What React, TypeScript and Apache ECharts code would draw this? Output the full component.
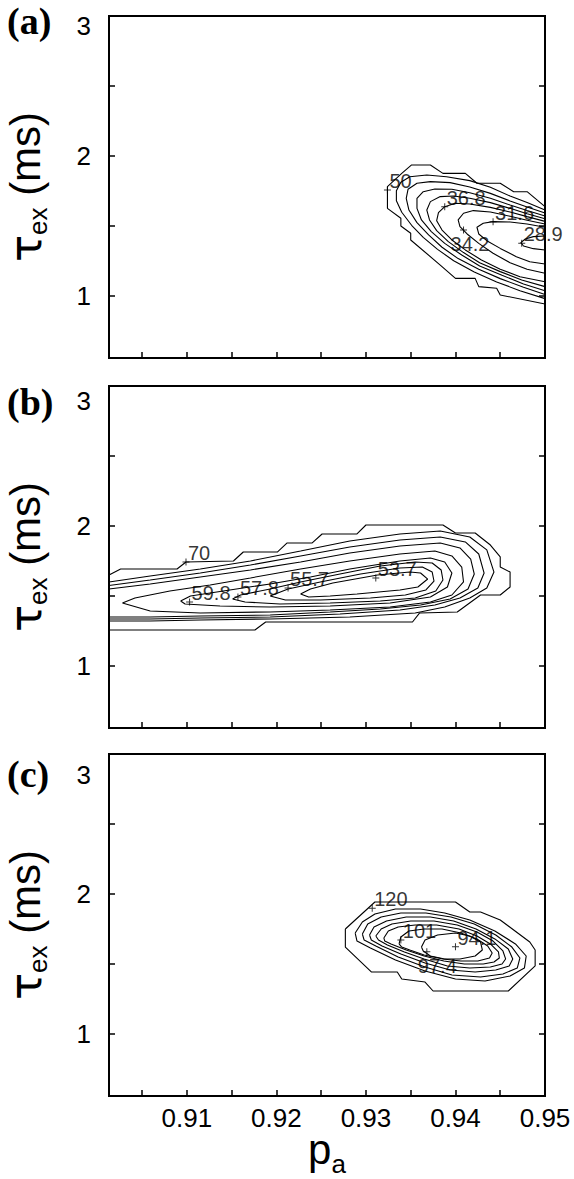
import React, { useEffect, useRef } from 'react';
import * as echarts from 'echarts';

// ---------------- axes ----------------
const xRange = [0.9013, 0.95];
const yRange = [0.557, 3];
const xTickValues = [0.905, 0.91, 0.915, 0.92, 0.925, 0.93, 0.935, 0.94, 0.945];
const xTickLabels = [0.91, 0.92, 0.93, 0.94, 0.95];
const yTickValues = [1, 1.5, 2, 2.5];
const yTickLabels = [1, 2, 3];
const panelTags = ['(a)', '(b)', '(c)'];

// ---------------- panel (a) contours: [p_a, tau_ex] ----------------
const a50 = [[0.95,1.638],[0.948,1.745],[0.9465,1.745],[0.945,1.805],[0.9424,1.805],[0.9411,1.876],[0.9386,1.876],[0.9372,1.936],[0.9351,1.936],[0.934,1.876],[0.9324,1.781],[0.9324,1.626],[0.9339,1.555],[0.9339,1.5],[0.935,1.448],[0.935,1.4],[0.9383,1.221],[0.94,1.126],[0.9422,1.126],[0.9426,1.067],[0.9446,1.055],[0.945,1.007],[0.95,0.943]];
const a47 = [[0.95,1.614],[0.948,1.667],[0.9461,1.714],[0.9439,1.776],[0.9416,1.824],[0.939,1.852],[0.9368,1.864],[0.9349,1.852],[0.9339,1.812],[0.9334,1.752],[0.9334,1.681],[0.934,1.598],[0.9351,1.505],[0.9364,1.419],[0.938,1.333],[0.9398,1.252],[0.9421,1.171],[0.9446,1.1],[0.9472,1.038],[0.95,0.981]];
const a44 = [[0.95,1.593],[0.948,1.636],[0.9461,1.679],[0.9439,1.733],[0.9416,1.779],[0.9394,1.81],[0.9372,1.817],[0.9357,1.805],[0.9347,1.762],[0.9345,1.698],[0.9348,1.614],[0.9357,1.524],[0.937,1.436],[0.9385,1.348],[0.9403,1.267],[0.9426,1.191],[0.945,1.124],[0.9476,1.062],[0.95,1.01]];
const a42 = [[0.95,1.571],[0.948,1.61],[0.9461,1.65],[0.9439,1.698],[0.9416,1.738],[0.9396,1.762],[0.9377,1.764],[0.9364,1.745],[0.9357,1.698],[0.9357,1.626],[0.9362,1.543],[0.9373,1.46],[0.9388,1.376],[0.9407,1.293],[0.9427,1.214],[0.9452,1.148],[0.9476,1.086],[0.95,1.038]];
const a39 = [[0.95,1.552],[0.948,1.588],[0.9461,1.626],[0.9439,1.667],[0.9416,1.698],[0.9398,1.714],[0.9383,1.71],[0.9372,1.674],[0.9368,1.614],[0.9371,1.543],[0.9379,1.467],[0.9392,1.388],[0.9409,1.31],[0.9427,1.238],[0.945,1.174],[0.9474,1.114],[0.95,1.067]];
const a37 = [[0.95,1.533],[0.948,1.567],[0.9461,1.6],[0.9439,1.633],[0.9416,1.657],[0.94,1.662],[0.9388,1.638],[0.9381,1.595],[0.9379,1.538],[0.9385,1.471],[0.9396,1.4],[0.9411,1.329],[0.9429,1.257],[0.945,1.191],[0.9472,1.138],[0.95,1.102]];
const a34 = [[0.95,1.514],[0.948,1.541],[0.9461,1.569],[0.9439,1.6],[0.942,1.61],[0.9409,1.591],[0.9403,1.543],[0.9405,1.495],[0.9413,1.443],[0.9426,1.376],[0.9442,1.305],[0.9461,1.238],[0.948,1.191],[0.95,1.162]];
const a32 = [[0.95,1.491],[0.948,1.514],[0.9461,1.529],[0.9442,1.531],[0.9431,1.519],[0.9424,1.491],[0.9426,1.443],[0.9435,1.395],[0.945,1.34],[0.9468,1.281],[0.9483,1.245],[0.95,1.229]];
const a29 = [[0.95,1.429],[0.9487,1.424],[0.9478,1.407],[0.9473,1.381],[0.9476,1.357],[0.9487,1.338],[0.95,1.329]];
const markersA = [[0.9324,1.757,'50'],[0.9388,1.638,'36.8'],[0.9409,1.471,'34.2'],[0.9442,1.531,'31.6'],[0.9474,1.376,'28.9']];

// ---------------- panel (b) contours ----------------
const b70 = [[0.9013,1.65],[0.9026,1.693],[0.9089,1.693],[0.9099,1.743],[0.9152,1.75],[0.9163,1.814],[0.9201,1.814],[0.9212,1.879],[0.924,1.879],[0.9251,1.943],[0.929,1.943],[0.93,2.007],[0.9386,2.007],[0.94,1.95],[0.9422,1.95],[0.9439,1.864],[0.945,1.779],[0.945,1.707],[0.9461,1.671],[0.9461,1.564],[0.945,1.507],[0.9428,1.507],[0.9402,1.386],[0.936,1.379],[0.9352,1.314],[0.9188,1.314],[0.9176,1.257],[0.9013,1.257]];
const b68 = [[0.9013,1.6],[0.9059,1.643],[0.9115,1.693],[0.9171,1.75],[0.9227,1.821],[0.9282,1.893],[0.9338,1.943],[0.9383,1.964],[0.9416,1.921],[0.9435,1.829],[0.9443,1.671],[0.9435,1.557],[0.9416,1.486],[0.9388,1.421],[0.9355,1.379],[0.9282,1.35],[0.9193,1.336],[0.9115,1.329],[0.9059,1.321],[0.9013,1.321]];
const b66 = [[0.9013,1.575],[0.9059,1.614],[0.9115,1.664],[0.9171,1.721],[0.9227,1.786],[0.9282,1.85],[0.9338,1.9],[0.9383,1.921],[0.9411,1.886],[0.9426,1.8],[0.9432,1.664],[0.9425,1.557],[0.9405,1.486],[0.9377,1.436],[0.9338,1.4],[0.9271,1.371],[0.9193,1.35],[0.9115,1.343],[0.9059,1.336],[0.9013,1.336]];
const b64 = [[0.9013,1.55],[0.9059,1.586],[0.9115,1.636],[0.9171,1.686],[0.9227,1.743],[0.9282,1.807],[0.9338,1.857],[0.9383,1.879],[0.9405,1.843],[0.9417,1.764],[0.9421,1.657],[0.9414,1.55],[0.9394,1.479],[0.9361,1.436],[0.9316,1.407],[0.926,1.386],[0.9193,1.364],[0.9115,1.357],[0.9059,1.35],[0.9013,1.35]];
const b62 = [[0.9028,1.45],[0.9042,1.486],[0.9081,1.536],[0.9126,1.579],[0.9171,1.629],[0.9227,1.693],[0.9282,1.75],[0.9338,1.8],[0.9377,1.821],[0.9396,1.786],[0.9407,1.707],[0.9409,1.6],[0.9396,1.507],[0.9372,1.457],[0.9327,1.421],[0.926,1.4],[0.9193,1.386],[0.9115,1.379],[0.9059,1.393],[0.9028,1.45]];
const b60 = [[0.9093,1.464],[0.9104,1.5],[0.9148,1.543],[0.9193,1.586],[0.9238,1.636],[0.9282,1.693],[0.9338,1.75],[0.9372,1.771],[0.9388,1.743],[0.9396,1.664],[0.9391,1.564],[0.9372,1.493],[0.9327,1.45],[0.926,1.429],[0.9193,1.421],[0.9137,1.429],[0.9098,1.443],[0.9093,1.464]];
const b58 = [[0.9151,1.479],[0.916,1.507],[0.9193,1.55],[0.9227,1.6],[0.9271,1.657],[0.9316,1.714],[0.9355,1.743],[0.9374,1.736],[0.9384,1.686],[0.9386,1.614],[0.9378,1.536],[0.9355,1.486],[0.9316,1.464],[0.926,1.45],[0.9204,1.443],[0.9165,1.457],[0.9151,1.479]];
const b56 = [[0.9193,1.5],[0.9213,1.55],[0.9249,1.6],[0.9294,1.657],[0.9338,1.7],[0.9363,1.707],[0.9374,1.671],[0.9376,1.607],[0.9367,1.543],[0.9344,1.507],[0.9305,1.486],[0.9249,1.471],[0.921,1.471],[0.9193,1.5]];
const b54 = [[0.9227,1.514],[0.9238,1.55],[0.9263,1.593],[0.9313,1.65],[0.9349,1.671],[0.9361,1.664],[0.9369,1.621],[0.9358,1.564],[0.9338,1.543],[0.929,1.514],[0.926,1.5],[0.9236,1.493],[0.9227,1.514]];
const markersB = [[0.9099,1.743,'70'],[0.9103,1.457,'59.8'],[0.9157,1.493,'57.8'],[0.9213,1.557,'55.7'],[0.9311,1.629,'53.7']];

// ---------------- panel (c) contours ----------------
const c120 = [[0.9277,1.75],[0.9277,1.621],[0.9306,1.443],[0.9335,1.443],[0.934,1.393],[0.9366,1.371],[0.9375,1.307],[0.9459,1.307],[0.9489,1.486],[0.9489,1.6],[0.9483,1.657],[0.945,1.814],[0.9428,1.871],[0.9416,1.871],[0.94,1.943],[0.931,1.943],[0.9277,1.75]];
const c117 = [[0.9288,1.721],[0.9296,1.8],[0.931,1.857],[0.9333,1.893],[0.9361,1.893],[0.9388,1.864],[0.9416,1.814],[0.9444,1.736],[0.9467,1.643],[0.9479,1.557],[0.9477,1.471],[0.9461,1.414],[0.9433,1.379],[0.94,1.393],[0.9366,1.45],[0.9333,1.529],[0.9305,1.614],[0.929,1.664],[0.9288,1.721]];
const c114 = [[0.9296,1.714],[0.9302,1.786],[0.9317,1.836],[0.9339,1.864],[0.9367,1.864],[0.9395,1.836],[0.9421,1.786],[0.9445,1.707],[0.9463,1.621],[0.9472,1.543],[0.9469,1.471],[0.9453,1.429],[0.9428,1.407],[0.9396,1.421],[0.9366,1.479],[0.9336,1.55],[0.9311,1.629],[0.9298,1.671],[0.9296,1.714]];
const c111 = [[0.9304,1.707],[0.9309,1.764],[0.9323,1.807],[0.9345,1.836],[0.9372,1.836],[0.9398,1.807],[0.9423,1.75],[0.9444,1.679],[0.9459,1.607],[0.9464,1.536],[0.946,1.486],[0.9445,1.457],[0.9422,1.443],[0.9394,1.457],[0.9366,1.507],[0.9339,1.571],[0.9318,1.629],[0.9306,1.671],[0.9304,1.707]];
const c107 = [[0.9311,1.7],[0.9317,1.75],[0.9329,1.786],[0.935,1.807],[0.9376,1.807],[0.9402,1.779],[0.9424,1.729],[0.9442,1.664],[0.9453,1.593],[0.9456,1.536],[0.9452,1.5],[0.9439,1.479],[0.9416,1.471],[0.9391,1.486],[0.9365,1.536],[0.9343,1.586],[0.9324,1.636],[0.9314,1.671],[0.9311,1.7]];
const c104 = [[0.932,1.686],[0.9325,1.736],[0.9336,1.764],[0.9355,1.779],[0.9379,1.779],[0.9404,1.75],[0.9424,1.7],[0.9439,1.643],[0.9448,1.586],[0.9449,1.543],[0.9443,1.514],[0.9431,1.5],[0.941,1.5],[0.9387,1.521],[0.9365,1.557],[0.9345,1.6],[0.9328,1.643],[0.9321,1.664],[0.932,1.686]];
const c101 = [[0.9337,1.643],[0.9339,1.693],[0.9348,1.736],[0.9365,1.75],[0.9385,1.75],[0.9406,1.721],[0.9424,1.679],[0.9436,1.629],[0.9441,1.579],[0.9438,1.543],[0.9425,1.521],[0.9406,1.521],[0.9386,1.536],[0.9365,1.564],[0.9349,1.6],[0.934,1.621],[0.9337,1.643]];
const c97 = [[0.9362,1.621],[0.9366,1.671],[0.938,1.707],[0.94,1.721],[0.9416,1.7],[0.9428,1.657],[0.943,1.6],[0.9422,1.557],[0.9405,1.536],[0.9388,1.536],[0.9372,1.557],[0.9364,1.593],[0.9362,1.621]];
const markersC = [[0.9307,1.898,'120'],[0.9339,1.671,'101'],[0.9368,1.588,'97.4'],[0.94,1.624,'94.1']];

const panels = [
  { contours: [a50, a47, a44, a42, a39, a37, a34, a32, a29], markers: markersA },
  { contours: [b70, b68, b66, b64, b62, b60, b58, b56, b54], markers: markersB },
  { contours: [c120, c117, c114, c111, c107, c104, c101, c97], markers: markersC },
];

// ---------------- layout / style ----------------
const GRID_LEFT = 109;
const GRID_WIDTH = 436;
const GRID_HEIGHT = 342;
const GRID_TOPS = [16, 386, 754];
const THREE_PAD = [20, 30, 42];
const TAG_TOPS = [2, 383, 755];
const belowLabel: Record<string, number[]> = { '34.2': [-13, 14], '97.4': [-9, 14] };
const PLUS = 'path://M3,0H4V3H7V4H4V7H3V4H0V3H3Z';
const SANS = 'Liberation Sans';
const TICK_FONT = 26;

function buildOption() {
  const grid = GRID_TOPS.map((t) => ({
    left: GRID_LEFT, top: t, width: GRID_WIDTH, height: GRID_HEIGHT,
    containLabel: false, outerBoundsMode: 'none',
    show: true, borderColor: '#000', borderWidth: 2, backgroundColor: 'transparent',
  }));

  const xAxis = GRID_TOPS.map((_, i) => ({
    type: 'value', gridIndex: i, min: xRange[0], max: xRange[1],
    axisLine: { show: false }, splitLine: { show: false },
    axisTick: { show: true, inside: true, length: 6, customValues: xTickValues, lineStyle: { color: '#000', width: 1.5 } },
    axisLabel: {
      show: i === 2, customValues: xTickLabels, formatter: (v: number) => v.toFixed(2),
      fontSize: TICK_FONT, fontFamily: SANS, color: '#000', margin: 9,
    },
    name: i === 2 ? '{p|p}{s|a}' : '',
    nameLocation: 'middle', nameGap: 25, nameMoveOverlap: false,
    nameTextStyle: {
      color: '#000',
      rich: {
        p: { fontSize: 42, fontFamily: SANS, color: '#000', lineHeight: 56 },
        s: { fontSize: 26, fontFamily: SANS, color: '#000', verticalAlign: 'bottom' },
      },
    },
  }));

  const yAxis: any[] = [];
  GRID_TOPS.forEach((_, i) => {
    yAxis.push({
      type: 'value', gridIndex: i, position: 'left', min: yRange[0], max: yRange[1],
      axisLine: { show: false }, splitLine: { show: false },
      axisTick: { show: true, inside: true, length: 6, customValues: yTickValues, lineStyle: { color: '#000', width: 1.5 } },
      axisLabel: {
        show: true, customValues: yTickLabels,
        formatter: (v: number) => (Math.abs(v - 3) < 1e-9 ? '{top|3}' : String(v)),
        fontSize: TICK_FONT, fontFamily: SANS, color: '#000', margin: 18,
        rich: { top: { fontSize: TICK_FONT, fontFamily: SANS, color: '#000', padding: [THREE_PAD[i], 0, 0, 0] } },
      },
      name: '{t|τ}{s|ex}{m| (ms)}',
      nameLocation: 'middle', nameGap: 58, nameRotate: 90, nameMoveOverlap: false,
      nameTextStyle: {
        color: '#000',
        rich: {
          t: { fontSize: 45, fontFamily: 'DejaVu Sans', color: '#000', lineHeight: 52 },
          s: { fontSize: 26, fontFamily: SANS, color: '#000', verticalAlign: 'bottom' },
          m: { fontSize: 42, fontFamily: SANS, color: '#000', lineHeight: 52 },
        },
      },
    });
    yAxis.push({
      type: 'value', gridIndex: i, position: 'right', min: yRange[0], max: yRange[1],
      axisLine: { show: false }, splitLine: { show: false },
      axisTick: { show: true, inside: true, length: 6, customValues: yTickValues, lineStyle: { color: '#000', width: 1.5 } },
      axisLabel: { show: false },
    });
  });

  const series: any[] = [];
  panels.forEach((p, i) => {
    p.contours.forEach((c) => {
      series.push({
        type: 'line', xAxisIndex: i, yAxisIndex: 2 * i, data: c,
        symbol: 'none', smooth: false, silent: true,
        lineStyle: { color: '#000', width: 1.1 }, z: 2,
      });
    });
    series.push({
      type: 'scatter', xAxisIndex: i, yAxisIndex: 2 * i,
      symbol: PLUS, symbolSize: 7, itemStyle: { color: '#000' }, silent: true, z: 3,
      data: p.markers.map((m) => {
        const off = belowLabel[m[2] as string];
        const item: any = { value: [m[0], m[1]], name: m[2] };
        if (off) item.label = { offset: off };
        return item;
      }),
      label: {
        show: true, formatter: (q: any) => q.name, position: 'inside',
        align: 'left', verticalAlign: 'middle', offset: [2, -9],
        fontSize: 20, fontFamily: SANS, color: '#000',
      },
    });
  });

  const graphic = panelTags.map((tag, i) => ({
    type: 'text', left: 7, top: TAG_TOPS[i],
    style: { text: tag, font: 'bold 38px "Liberation Serif"', fill: '#000' },
  }));

  return { animation: false, backgroundColor: '#fff', grid, xAxis, yAxis, series, graphic };
}

export default function App() {
  const ref = useRef<HTMLDivElement>(null);
  useEffect(() => {
    const chart = echarts.init(ref.current!, null, { renderer: 'svg' });
    chart.setOption(buildOption() as any);
    return () => chart.dispose();
  }, []);
  return (
    <div
      ref={ref}
      style={{ position: 'absolute', left: 0, top: 0, width: 574, height: 1179, background: '#fff' }}
    />
  );
}
